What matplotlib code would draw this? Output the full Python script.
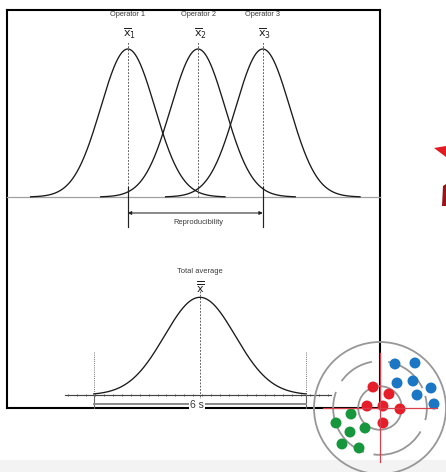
import numpy as np
import matplotlib
matplotlib.use("Agg")
import matplotlib.pyplot as plt
from matplotlib.patches import Circle, Arc, Polygon, Rectangle

plt.rcParams['font.family'] = ['Liberation Sans', 'DejaVu Sans']
plt.rcParams['mathtext.fontset'] = 'dejavusans'

# data (x in units of the operator standard deviation)
operators = ["Operator 1", "Operator 2", "Operator 3"]
operator_means = [-2.6, 0.0, 2.4]
operator_sigma = 1.0
operator_peak = 1.0
total_mean = 0.07
total_sigma = 1.31
total_peak = 0.66

# target: shots of each operator (unit = outer ring radius)
blue_x = [0.227, 0.530, 0.258, 0.500, 0.773, 0.561, 0.818]
blue_y = [0.667, 0.682, 0.379, 0.409, 0.303, 0.197, 0.061]
red_x = [-0.106, 0.136, -0.197, 0.045, 0.303, 0.045]
red_y = [0.318, 0.212, 0.030, 0.030, -0.015, -0.227]
green_x = [-0.439, -0.667, -0.455, -0.227, -0.576, -0.318]
green_y = [-0.091, -0.227, -0.364, -0.303, -0.545, -0.606]
ring_radii = [1.0, 0.71, 0.33]

W, H = 446, 472
fig = plt.figure(figsize=(W / 100, H / 100), dpi=100)


def px_axes(x0, y0, x1, y1, **kw):
    return fig.add_axes([x0 / W, 1 - y1 / H, (x1 - x0) / W, (y1 - y0) / H], **kw)


# background decoration
bg = px_axes(0, 0, W, H)
bg.set_xlim(0, W)
bg.set_ylim(H, 0)
bg.axis('off')
bg.add_patch(Rectangle((0, 460), W, 12, color='#f3f3f3', lw=0))
bg.add_patch(Polygon([(434, 148), (446, 146), (446, 157)], closed=True, color='#e01b24', lw=0))
bg.add_patch(Polygon([(443, 186), (446, 184), (446, 206), (442, 206)], closed=True, color='#9a1319', lw=0))

# frame
frame = px_axes(7, 10, 380, 408)
frame.set_facecolor('white')
frame.set_xticks([])
frame.set_yticks([])
for s in frame.spines.values():
    s.set_linewidth(1.5)
    s.set_color('black')

PXU = 27.0    # pixels per x unit
PYU = 148.0   # pixels per y unit
X0 = 198.0

# top panel
ax1 = px_axes(7, 10, 380, 230)
ax1.set_xlim((7 - X0) / PXU, (380 - X0) / PXU)
ax1.set_ylim((197 - 230) / PYU, (197 - 10) / PYU)
ax1.axis('off')
ax1.patch.set_alpha(0)

ax1.plot(ax1.get_xlim(), [0, 0], color='#a0a0a0', lw=0.9, clip_on=False)
subs = ['1', '2', '3']
for name, m, sb in zip(operators, operator_means, subs):
    xs = np.linspace(m - 3.6 * operator_sigma, m + 3.6 * operator_sigma, 300)
    ys = operator_peak * np.exp(-0.5 * ((xs - m) / operator_sigma) ** 2)
    ax1.plot(xs, ys, color='#1a1a1a', lw=0.95)
    ax1.plot([m, m], [0, 1.05], color='#555555', lw=0.65, ls=(0, (2, 1.6)))
    ax1.text(m, 1.23, name, ha='center', va='center', fontsize=5.3, color='#3a3a3a')
    ax1.text(m + 0.08, 1.105, r'$\overline{\mathrm{x}}_{' + sb + '}$', ha='center', va='center',
             fontsize=8, color='#222222')

for m in (operator_means[0], operator_means[2]):
    ax1.plot([m, m], [0.068, -0.205], color='#222222', lw=0.85)
ax1.annotate('', xy=(operator_means[2], -0.108), xytext=(operator_means[0], -0.108),
             arrowprops=dict(arrowstyle='<|-|>', color='#222222', lw=0.75,
                             mutation_scale=5, shrinkA=0, shrinkB=0))
ax1.text((operator_means[0] + operator_means[2]) / 2 + 0.1, -0.172, 'Reproducibility',
         ha='center', va='center', fontsize=5.4, color='#3a3a3a')

# bottom panel
ax2 = px_axes(7, 230, 380, 408)
ax2.set_xlim((7 - X0) / PXU, (380 - X0) / PXU)
ax2.set_ylim((395 - 408) / PYU, (395 - 230) / PYU)
ax2.axis('off')
ax2.patch.set_alpha(0)

xs = np.linspace(total_mean - 3 * total_sigma, total_mean + 3 * total_sigma, 300)
ys = total_peak * np.exp(-0.5 * ((xs - total_mean) / total_sigma) ** 2)
ax2.plot(xs, ys, color='#1a1a1a', lw=0.95, zorder=3)

axis_lo, axis_hi = total_mean - 5.0, total_mean + 4.85
ax2.plot([axis_lo, axis_hi], [0, 0], color='#444444', lw=0.85, clip_on=False, zorder=2)
ticks = np.arange(axis_lo + 0.1, axis_hi, 0.333)
ax2.vlines(ticks, -0.01, 0.01, color='#444444', lw=0.6, clip_on=False)

ax2.plot([total_mean, total_mean], [0.70, -0.03], color='#555555', lw=0.65, ls=(0, (2, 1.6)))
ax2.text(total_mean, 0.835, 'Total average', ha='center', va='center', fontsize=5.4, color='#3a3a3a')
ax2.text(total_mean, 0.725, r'$\overline{\overline{\mathrm{x}}}$', ha='center', va='center',
         fontsize=8, color='#222222')

for e in (total_mean - 3 * total_sigma, total_mean + 3 * total_sigma):
    ax2.plot([e, e], [0.29, 0], color='#777777', lw=0.7, ls=(0, (1, 1.2)))
    ax2.plot([e, e], [0, -0.09], color='#666666', lw=0.8, clip_on=False)
ax2.plot([total_mean - 3 * total_sigma, total_mean + 3 * total_sigma], [-0.061, -0.061],
         color='#8a8a8a', lw=1.4)
ax2.text(total_mean - 0.1, -0.066, '6 s', ha='center', va='center', fontsize=7.5, color='#3a3a3a',
         bbox=dict(facecolor='white', edgecolor='none', pad=0.6))

# target
R = 66.0
axt = px_axes(380 - 70, 408 - 70, 380 + 70, 408 + 70)
axt.set_xlim(-70 / R, 70 / R)
axt.set_ylim(-70 / R, 70 / R)
axt.axis('off')
axt.patch.set_alpha(0)

ring_c = '#979797'
axt.add_patch(Circle((0, 0), ring_radii[0], fill=False, ec=ring_c, lw=1.3))
for a1, a2 in [(25, 80), (100, 145), (160, 250), (262, 330), (345, 375)]:
    axt.add_patch(Arc((0, 0), 2 * ring_radii[1], 2 * ring_radii[1], theta1=a1, theta2=a2,
                      ec=ring_c, lw=1.3))
axt.add_patch(Circle((0, 0), ring_radii[2], fill=False, ec=ring_c, lw=1.3))

axt.plot([-0.86, 0.86], [0, 0], color='#d8404e', lw=0.9)
axt.plot([0, 0], [-0.82, 0.83], color='#d8404e', lw=0.9)

dot_r = 0.083
for xs_, ys_, c in [(blue_x, blue_y, '#1b77c3'), (red_x, red_y, '#e51e2a'), (green_x, green_y, '#17973d')]:
    for x, y in zip(xs_, ys_):
        axt.add_patch(Circle((x, y), dot_r, color=c, lw=0))

fig.savefig('out.png', dpi=100)
